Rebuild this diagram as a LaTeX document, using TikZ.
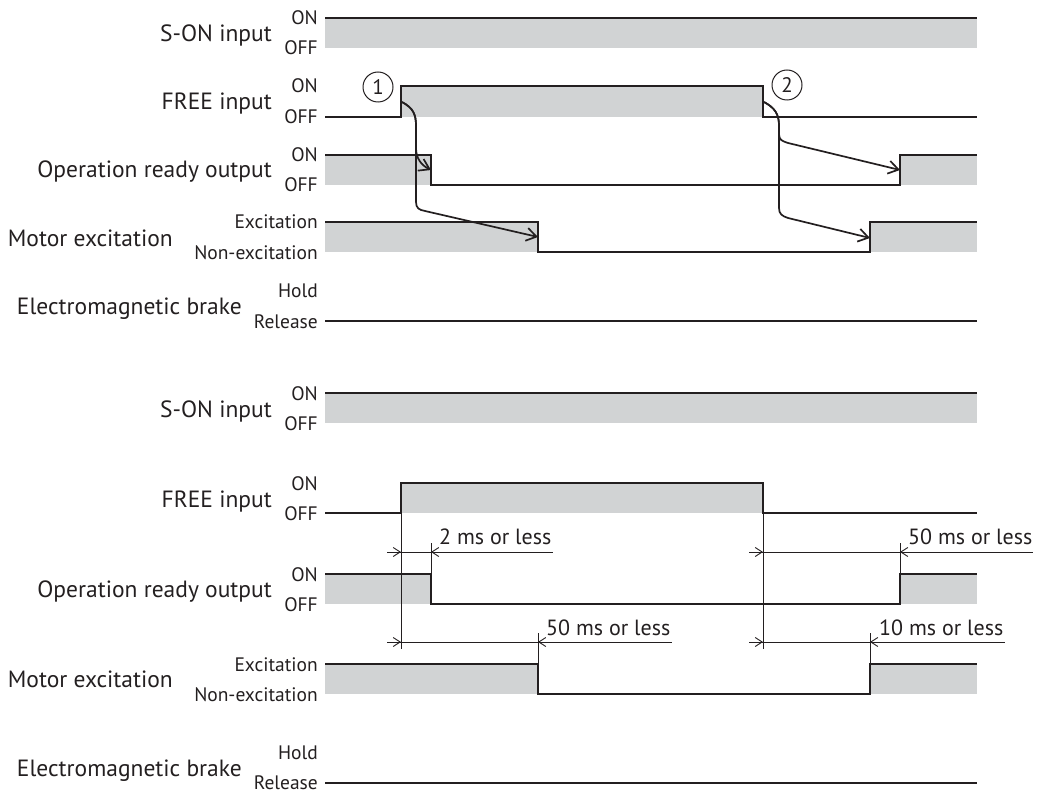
\documentclass[tikz,border=0pt]{standalone}
\usepackage{fontspec}
\setmainfont{PT Sans}
\usetikzlibrary{arrows.meta}
\definecolor{ink}{HTML}{231F20}
\definecolor{sig}{HTML}{D1D3D4}
\begin{document}
\begin{tikzpicture}[x=1pt,y=-1pt,
  sigline/.style={draw=ink, line width=1.4pt, line join=miter},
  sigfill/.style={fill=sig, draw=none},
  lab/.style={font=\fontsize{23.5}{26}\selectfont, text=ink, anchor=base east, inner sep=0},
  lvl/.style={font=\fontsize{19.5}{21}\selectfont, text=ink, anchor=base east, inner sep=0},
  dimtext/.style={font=\fontsize{22}{24}\selectfont, text=ink, anchor=base west, inner sep=0},
  dimline/.style={draw=ink, line width=0.9pt},
  dimarrow/.style={draw=ink, line width=0.9pt, -{Straight Barb[length=7pt,width=9pt]}},
  extline/.style={draw=ink, line width=0.9pt},
  cause/.style={draw=ink, line width=1.7pt, -{Straight Barb[length=10pt,width=13pt]}},
  marker/.style={circle, draw=ink, line width=1pt, minimum size=30pt, inner sep=0, font=\fontsize{21}{22}\selectfont, text=ink}
]
\useasboundingbox (0,0) rectangle (1040,794);

% ================= TOP DIAGRAM =================
\node[lab] (t-son) at (272,42) {S-ON input};
\node[lvl] (t-son-on) at (318,25) {ON};
\node[lvl] (t-son-off) at (318,55) {OFF};
\node[lab] (t-free) at (272,110) {FREE input};
\node[lvl] (t-free-on) at (318,93) {ON};
\node[lvl] (t-free-off) at (318,124) {OFF};
\node[lab] (t-rdy) at (272,178) {Operation ready output};
\node[lvl] (t-rdy-on) at (318,162) {ON};
\node[lvl] (t-rdy-off) at (318,192) {OFF};
\node[lab] (t-mot) at (173,246) {Motor excitation};
\node[lvl] (t-mot-on) at (318,229) {Excitation};
\node[lvl] (t-mot-off) at (318,259) {Non-excitation};
\node[lab] (t-brk) at (242,314) {Electromagnetic brake};
\node[lvl] (t-brk-on) at (318,297) {Hold};
\node[lvl] (t-brk-off) at (318,328) {Release};

% S-ON
\fill[sigfill] (325,18) rectangle (977,48);
\draw[sigline] (325,18) -- (977,18);
% FREE
\fill[sigfill] (401,86) rectangle (763,117);
\draw[sigline] (325,117) -- (401,117) -- (401,86) -- (763,86) -- (763,117) -- (977,117);
% ready
\fill[sigfill] (325,155) rectangle (431,185);
\fill[sigfill] (900,155) rectangle (977,185);
\draw[sigline] (325,155) -- (431,155) -- (431,185) -- (900,185) -- (900,155) -- (977,155);
% motor
\fill[sigfill] (325,222) rectangle (538,252);
\fill[sigfill] (870,222) rectangle (977,252);
\draw[sigline] (325,222) -- (538,222) -- (538,252) -- (870,252) -- (870,222) -- (977,222);
% brake
\draw[sigline] (325,321) -- (977,321);

% markers
\node[marker] (m1) at (378,87) {1};
\node[marker] (m2) at (787,85) {2};

% cause arrows
\coordinate (c1s) at (402,102);
\coordinate (t1a) at (431,170);
\coordinate (t1b) at (538,237);
\coordinate (c2s) at (764,102);
\coordinate (t2a) at (900,170);
\coordinate (t2b) at (870,238);
\draw[cause] (c1s) .. controls (413,108) and (416,114) .. (416,126) -- (416,148) .. controls (416,158) and (421,165) .. (t1a);
\draw[cause] (c1s) .. controls (413,108) and (416,114) .. (416,126) -- (416,202) .. controls (416,208) and (419,210) .. (425,211) -- (t1b);
\draw[cause] (c2s) .. controls (775,108) and (779,114) .. (779,126) -- (779,134) .. controls (779,140) and (782,141) .. (788,143) -- (t2a);
\draw[cause] (c2s) .. controls (775,108) and (779,114) .. (779,126) -- (779,208) .. controls (779,214) and (782,216) .. (788,218) -- (t2b);

% ================= BOTTOM DIAGRAM =================
\node[lab] (b-son) at (272,417) {S-ON input};
\node[lvl] (b-son-on) at (318,400) {ON};
\node[lvl] (b-son-off) at (318,430) {OFF};
\node[lab] (b-free) at (272,507) {FREE input};
\node[lvl] (b-free-on) at (318,490) {ON};
\node[lvl] (b-free-off) at (318,520) {OFF};
\node[lab] (b-rdy) at (272,597) {Operation ready output};
\node[lvl] (b-rdy-on) at (318,581) {ON};
\node[lvl] (b-rdy-off) at (318,611) {OFF};
\node[lab] (b-mot) at (173,687) {Motor excitation};
\node[lvl] (b-mot-on) at (318,671) {Excitation};
\node[lvl] (b-mot-off) at (318,701) {Non-excitation};
\node[lab] (b-brk) at (242,776) {Electromagnetic brake};
\node[lvl] (b-brk-on) at (318,759) {Hold};
\node[lvl] (b-brk-off) at (318,789) {Release};

% S-ON
\fill[sigfill] (325,393) rectangle (977,423);
\draw[sigline] (325,393) -- (977,393);
% FREE
\fill[sigfill] (401,483) rectangle (763,513);
\draw[sigline] (325,513) -- (401,513) -- (401,483) -- (763,483) -- (763,513) -- (977,513);
% ready
\fill[sigfill] (325,574) rectangle (431,604);
\fill[sigfill] (900,574) rectangle (977,604);
\draw[sigline] (325,574) -- (431,574) -- (431,604) -- (900,604) -- (900,574) -- (977,574);
% motor
\fill[sigfill] (325,664) rectangle (538,694);
\fill[sigfill] (870,664) rectangle (977,694);
\draw[sigline] (325,664) -- (538,664) -- (538,694) -- (870,694) -- (870,664) -- (977,664);
% brake
\draw[sigline] (325,783) -- (977,783);

% extension lines
\draw[extline] (401,513) -- (401,649);
\draw[extline] (763,513) -- (763,649);
\draw[extline] (431,543) -- (431,574);
\draw[extline] (900,543) -- (900,574);
\draw[extline] (538,633) -- (538,664);
\draw[extline] (870,633) -- (870,664);

% dimensions
\draw[dimline] (387,552) -- (553,552);
\draw[dimarrow] (388,552) -- (401,552);
\draw[dimarrow] (444,552) -- (431,552);
\node[dimtext] (d1) at (439,544) {2 ms or less};

\draw[dimline] (749,552) -- (1033,552);
\draw[dimarrow] (750,552) -- (763,552);
\draw[dimarrow] (913,552) -- (900,552);
\node[dimtext] (d2) at (908,544) {50 ms or less};

\draw[dimline] (387,642) -- (672,642);
\draw[dimarrow] (388,642) -- (401,642);
\draw[dimarrow] (551,642) -- (538,642);
\node[dimtext] (d3) at (546,635) {50 ms or less};

\draw[dimline] (749,642) -- (1005,642);
\draw[dimarrow] (750,642) -- (763,642);
\draw[dimarrow] (883,642) -- (870,642);
\node[dimtext] (d4) at (879,635) {10 ms or less};
\end{tikzpicture}
\end{document}
